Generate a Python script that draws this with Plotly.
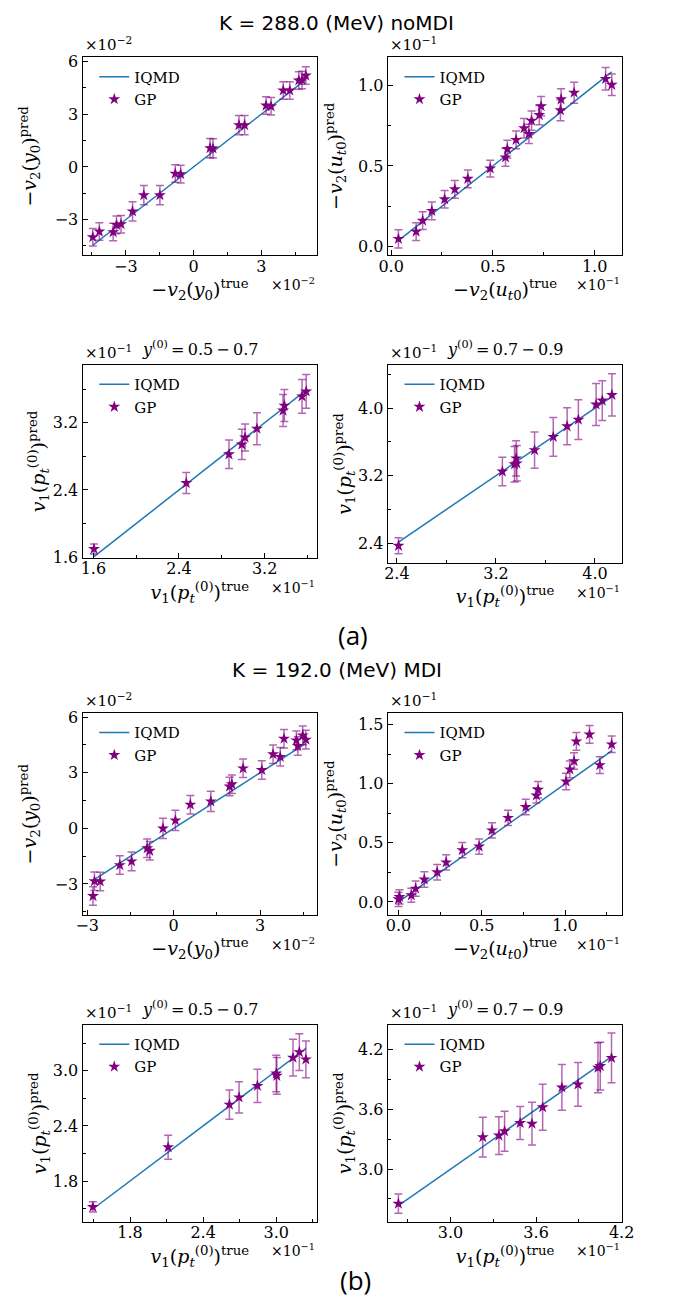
import plotly.graph_objects as go

W, H = 676, 1303

# ---------------- data ----------------
# (a) K = 288.0 (MeV) noMDI
p1_true = [-4.46, -4.17, -3.56, -3.41, -3.21, -2.70, -2.20, -1.49, -0.81, -0.57, 0.73, 0.86,
           2.01, 2.26, 3.21, 3.43, 3.97, 4.26, 4.66, 4.80, 4.97]
p1_pred = [-4.00, -3.68, -3.71, -3.30, -3.26, -2.53, -1.61, -1.61, -0.38, -0.41, 1.07, 1.05,
           2.38, 2.38, 3.49, 3.45, 4.35, 4.35, 4.92, 4.95, 5.20]
p1_err = [0.5, 0.5, 0.5, 0.5, 0.5, 0.55, 0.55, 0.55, 0.5, 0.5, 0.55, 0.55,
          0.55, 0.55, 0.5, 0.5, 0.5, 0.5, 0.5, 0.5, 0.5]

p2_true = [0.036, 0.123, 0.155, 0.200, 0.263, 0.313, 0.377, 0.487, 0.562, 0.571, 0.614, 0.653,
           0.677, 0.690, 0.728, 0.737, 0.832, 0.835, 0.899, 1.054, 1.084]
p2_pred = [0.047, 0.092, 0.160, 0.221, 0.293, 0.355, 0.420, 0.484, 0.553, 0.605, 0.662, 0.734,
           0.699, 0.781, 0.816, 0.871, 0.846, 0.914, 0.955, 1.041, 1.004]
p2_err = [0.056, 0.055, 0.055, 0.055, 0.055, 0.055, 0.055, 0.052, 0.055, 0.055, 0.055, 0.06,
          0.06, 0.06, 0.06, 0.06, 0.065, 0.065, 0.065, 0.07, 0.067]

p3_true = [1.606, 2.468, 2.867, 2.987, 3.017, 3.128, 3.372, 3.384, 3.549, 3.588]
p3_pred = [1.698, 2.482, 2.824, 2.941, 3.024, 3.129, 3.345, 3.404, 3.514, 3.573]
p3_err = [0.06, 0.125, 0.17, 0.18, 0.16, 0.19, 0.19, 0.19, 0.20, 0.20]

p4_true = [2.413, 3.252, 3.350, 3.363, 3.369, 3.512, 3.663, 3.775, 3.866, 4.009, 4.059, 4.137]
p4_pred = [2.369, 3.249, 3.335, 3.405, 3.346, 3.503, 3.660, 3.785, 3.863, 4.043, 4.090, 4.157]
p4_err = [0.094, 0.168, 0.21, 0.21, 0.21, 0.215, 0.23, 0.22, 0.235, 0.25, 0.235, 0.25]

# (b) K = 192.0 (MeV) MDI
p5_true = [-2.80, -2.75, -2.55, -1.87, -1.46, -0.92, -0.83, -0.37, 0.06, 0.58, 1.29, 1.94,
           2.02, 2.41, 3.06, 3.45, 3.70, 3.83, 4.26, 4.31, 4.48, 4.59]
p5_pred = [-3.65, -2.85, -2.86, -1.98, -1.78, -1.07, -1.21, 0.00, 0.43, 1.28, 1.46, 2.26,
           2.38, 3.24, 3.15, 4.00, 3.86, 4.84, 4.75, 4.45, 5.02, 4.79]
p5_err = [0.5, 0.5, 0.5, 0.5, 0.5, 0.5, 0.5, 0.55, 0.55, 0.5, 0.55, 0.5,
          0.5, 0.5, 0.5, 0.5, 0.5, 0.5, 0.5, 0.5, 0.5, 0.5]

p6_true = [0.000, 0.006, 0.077, 0.103, 0.155, 0.232, 0.286, 0.383, 0.484, 0.561, 0.658, 0.764,
           0.828, 0.838, 1.006, 1.029, 1.054, 1.068, 1.147, 1.209, 1.280]
p6_pred = [0.022, 0.042, 0.056, 0.112, 0.190, 0.251, 0.335, 0.439, 0.469, 0.606, 0.712, 0.804,
           0.902, 0.950, 1.020, 1.123, 1.193, 1.360, 1.419, 1.159, 1.335]
p6_err = [0.06, 0.06, 0.06, 0.065, 0.065, 0.065, 0.065, 0.065, 0.065, 0.065, 0.065, 0.065,
          0.065, 0.07, 0.07, 0.07, 0.07, 0.075, 0.075, 0.07, 0.07]

p7_true = [1.495, 2.113, 2.616, 2.695, 2.846, 3.000, 3.005, 3.138, 3.190, 3.244]
p7_pred = [1.518, 2.168, 2.632, 2.711, 2.836, 2.971, 2.946, 3.143, 3.204, 3.125]
p7_err = [0.055, 0.13, 0.16, 0.17, 0.18, 0.20, 0.20, 0.20, 0.20, 0.20]

p8_true = [2.634, 3.226, 3.339, 3.379, 3.488, 3.571, 3.646, 3.781, 3.894, 4.034, 4.050, 4.129]
p8_pred = [2.653, 3.321, 3.337, 3.380, 3.463, 3.456, 3.621, 3.820, 3.850, 4.018, 4.035, 4.117]
p8_err = [0.096, 0.20, 0.19, 0.20, 0.165, 0.215, 0.23, 0.23, 0.22, 0.25, 0.24, 0.25]

series_true = [p1_true, p2_true, p3_true, p4_true, p5_true, p6_true, p7_true, p8_true]
series_pred = [p1_pred, p2_pred, p3_pred, p4_pred, p5_pred, p6_pred, p7_pred, p8_pred]
series_err = [p1_err, p2_err, p3_err, p4_err, p5_err, p6_err, p7_err, p8_err]

exponents = ["−2", "−1", "−1", "−1", "−2", "−1", "−1", "−1"]
subtitles = [None, None, "0.5\u2009−\u20090.7", "0.7\u2009−\u20090.9",
             None, None, "0.5\u2009−\u20090.7", "0.7\u2009−\u20090.9"]

lab_y0 = "−<i>v</i><sub>2</sub>(<i>y</i><sub>0</sub>)<sup>{}</sup>"
lab_ut0 = "−<i>v</i><sub>2</sub>(<i>u</i><sub><i>t</i>0</sub>)<sup>{}</sup>"
lab_pt = "<i>v</i><sub>1</sub>(<i>p</i><sub><i>t</i></sub><sup>(0)</sup>)<sup>{}</sup>"
labels = [lab_y0, lab_ut0, lab_pt, lab_pt, lab_y0, lab_ut0, lab_pt, lab_pt]

# ---------------- layout / styling ----------------
# axes boxes in pixels: left, right, top, bottom
boxes = [(76, 318, 53, 253), (391, 633, 53, 253),
         (76, 318, 364, 559), (391, 633, 364, 564),
         (76, 318, 716, 920), (391, 633, 716, 920),
         (76, 318, 1031, 1230), (391, 633, 1031, 1230)]
xranges = [(-4.91, 5.47), (-0.016, 1.136), (1.50, 3.69), (2.327, 4.221),
           (-3.16, 4.98), (-0.064, 1.344), (1.411, 3.336), (2.56, 4.205)]
yranges = [(-5.03, 6.23), (-0.055, 1.174), (1.59, 3.886), (2.166, 4.51),
           (-4.68, 6.21), (-0.112, 1.598), (1.356, 3.50), (2.471, 4.448)]
# (tick0, dtick, minor dtick, format)
xticks = [(0, 3, 1.5, ""), (0, 0.5, 0.25, ".1f"), (1.6, 0.8, 0.4, ".1f"), (2.4, 0.8, 0.4, ".1f"),
          (0, 3, 1.5, ""), (0, 0.5, 0.25, ".1f"), (1.8, 0.6, 0.3, ".1f"), (3.0, 0.6, 0.3, ".1f")]
yticks = [(0, 3, 1.5, ""), (0, 0.5, 0.25, ".1f"), (1.6, 0.8, 0.4, ".1f"), (2.4, 0.8, 0.4, ".1f"),
          (0, 3, 1.5, ""), (0, 0.5, 0.25, ".1f"), (1.8, 0.6, 0.3, ".1f"), (3.0, 0.6, 0.3, ".1f")]
ytitle_standoff = [13, 10, 2, 0, 13, 10, 1, 0]
xtitle_standoff = [2, 2, 8, 6, 2, 2, 8, 8]

SERIF = "DejaVu Serif"
LINE_BLUE = "#1f77b4"
PURPLE = "#800080"
ERR_PURPLE = "rgba(128,0,128,0.6)"

fig = go.Figure()
layout = dict(width=W, height=H, margin=dict(l=0, r=0, t=0, b=0),
              paper_bgcolor="white", plot_bgcolor="white", showlegend=True)
annotations = []


def px(x):
    return x / W


def py(y):
    return 1 - y / H


for i in range(8):
    n = "" if i == 0 else str(i + 1)
    xa, ya, lg = "x" + n, "y" + n, "legend" + n
    xt, yp, er = series_true[i], series_pred[i], series_err[i]
    lo, hi = min(xt), max(xt)
    fig.add_trace(go.Scatter(x=[lo, hi], y=[lo, hi], mode="lines", name="IQMD",
                             line=dict(color=LINE_BLUE, width=1.5),
                             xaxis=xa, yaxis=ya, legend=lg))
    fig.add_trace(go.Scatter(x=xt, y=yp, mode="markers", name="GP",
                             marker=dict(symbol="star", size=9, color=PURPLE),
                             error_y=dict(type="data", array=er, color=ERR_PURPLE,
                                          thickness=1.5, width=4),
                             xaxis=xa, yaxis=ya, legend=lg))
    l, r, t, b = boxes[i]
    common = dict(showline=True, linecolor="black", linewidth=1.3, mirror=True,
                  ticks="inside", ticklen=5, tickwidth=1, tickcolor="black",
                  showgrid=False, zeroline=False,
                  tickfont=dict(family=SERIF, size=16, color="black"))
    x0, dx, mdx, fx = xticks[i]
    y0, dy, mdy, fy = yticks[i]
    layout["xaxis" + n] = dict(common, domain=[px(l), px(r)], range=list(xranges[i]),
                               anchor=ya, tick0=x0, dtick=dx, tickformat=fx,
                               ticklabelstandoff=-4,
                               minor=dict(ticks="inside", ticklen=3, dtick=mdx, tick0=x0,
                                          tickcolor="black", showgrid=False),
                               title=dict(text=labels[i].format("true"), standoff=xtitle_standoff[i],
                                          font=dict(family=SERIF, size=19, color="black")))
    layout["yaxis" + n] = dict(common, domain=[py(b), py(t)], range=list(yranges[i]),
                               anchor=xa, tick0=y0, dtick=dy, tickformat=fy,
                               minor=dict(ticks="inside", ticklen=3, dtick=mdy, tick0=y0,
                                          tickcolor="black", showgrid=False),
                               title=dict(text=labels[i].format("pred"), standoff=ytitle_standoff[i],
                                          font=dict(family=SERIF, size=19, color="black")))
    layout[lg] = dict(x=px(l + 12), y=py(t + 3), xanchor="left", yanchor="top",
                      bgcolor="rgba(0,0,0,0)", borderwidth=0, traceorder="normal",
                      font=dict(family=SERIF, size=15, color="black"))
    # offset (exponent) texts
    annotations.append(dict(text="×10<sup>{}</sup>".format(exponents[i]), xref="paper", yref="paper",
                            x=px(l), y=py(t - 1), xanchor="left", yanchor="bottom", showarrow=False,
                            font=dict(family=SERIF, size=15, color="black")))
    annotations.append(dict(text="×10<sup>{}</sup>".format(exponents[i]), xref="paper", yref="paper",
                            x=px(r), y=py(b + 29), xanchor="right", yanchor="middle", showarrow=False,
                            font=dict(family=SERIF, size=14, color="black")))
    if subtitles[i]:
        annotations.append(dict(text="<i>y</i><sup>(0)</sup>\u2009=\u2009" + subtitles[i], xref="paper",
                                yref="paper", x=px((l + r) / 2), y=py(t - 17), xanchor="center",
                                yanchor="middle", showarrow=False,
                                font=dict(family=SERIF, size=16, color="black")))

for txt, x, y, fam, sz in [("K = 288.0 (MeV) noMDI", 338, 18, "DejaVu Sans", 20),
                           ("K = 192.0 (MeV) MDI", 338, 672, "DejaVu Sans", 20),
                           ("(a)", 355, 637, "Open Sans", 26),
                           ("(b)", 358, 1289, "Open Sans", 26)]:
    annotations.append(dict(text=txt, xref="paper", yref="paper", x=px(x), y=py(y),
                            xanchor="center", yanchor="middle", showarrow=False,
                            font=dict(family=fam, size=sz, color="black")))

layout["annotations"] = annotations
fig.update_layout(**layout)

fig.write_html("out.html", config={"displayModeBar": False},
               post_script="document.body.style.margin='0';")
